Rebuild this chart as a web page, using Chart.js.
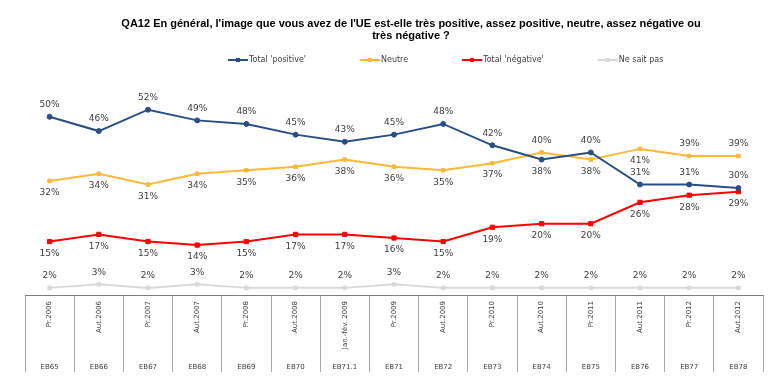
<!DOCTYPE html>
<html>
<head>
    <title>Image de l'UE</title>
    <script src="https://cdn.jsdelivr.net/npm/chart.js"></script>
    <style>
        body { margin: 0; background: #fff; }
    </style>
</head>
<body>
    <canvas id="myChart" width="776" height="388"></canvas>

    <script>
        const periods = ['Pr.2006', 'Aut.2006', 'Pr.2007', 'Aut.2007', 'Pr.2008', 'Aut.2008', 'Jan.-fév. 2009',
            'Pr.2009', 'Aut.2009', 'Pr.2010', 'Aut.2010', 'Pr.2011', 'Aut.2011', 'Pr.2012', 'Aut.2012'];
        const waves = ['EB65', 'EB66', 'EB67', 'EB68', 'EB69', 'EB70', 'EB71.1', 'EB71', 'EB72', 'EB73',
            'EB74', 'EB75', 'EB76', 'EB77', 'EB78'];
        const positive = [50, 46, 52, 49, 48, 45, 43, 45, 48, 42, 38, 40, 31, 31, 30];
        const neutre = [32, 34, 31, 34, 35, 36, 38, 36, 35, 37, 40, 38, 41, 39, 39];
        const negative = [15, 17, 15, 14, 15, 17, 17, 16, 15, 19, 20, 20, 26, 28, 29];
        const nsp = [2, 3, 2, 3, 2, 2, 2, 3, 2, 2, 2, 2, 2, 2, 2];
        const seriesNames = ["Total 'positive'", 'Neutre', "Total 'négative'", 'Ne sait pas'];
        const titleLines = ["QA12 En général, l'image que vous avez de l'UE est-elle très positive, assez positive, neutre, assez négative ou",
            'très négative ?'];

        // percentage labels next to each point
        const valueLabels = {
            id: 'valueLabels',
            afterDatasetsDraw(chart) {
                const ctx = chart.ctx;
                ctx.save();
                ctx.font = '9px "DejaVu Sans"';
                ctx.fillStyle = '#404040';
                ctx.textAlign = 'center';
                ctx.textBaseline = 'middle';
                chart.data.datasets.forEach((ds, d) => {
                    chart.getDatasetMeta(d).data.forEach((pt, i) => {
                        const below = ds.labelBelow.includes(i);
                        ctx.fillText(ds.data[i] + '%', pt.x, pt.y + (below ? 12 : -12));
                    });
                });
                ctx.restore();
            }
        };

        // title and legend, placed like the original
        const header = {
            id: 'header',
            afterDraw(chart) {
                const ctx = chart.ctx;
                ctx.save();
                ctx.fillStyle = '#000';
                ctx.textAlign = 'center';
                ctx.textBaseline = 'middle';
                ctx.font = 'bold 11px "Liberation Sans"';
                titleLines.forEach((t, i) => ctx.fillText(t, 411, 24 + i * 12));

                ctx.font = '8px "DejaVu Sans"';
                ctx.textAlign = 'left';
                let x = 228;
                chart.data.datasets.forEach(ds => {
                    ctx.strokeStyle = ds.borderColor;
                    ctx.fillStyle = ds.borderColor;
                    ctx.lineWidth = 2;
                    ctx.beginPath();
                    ctx.moveTo(x, 60);
                    ctx.lineTo(x + 20, 60);
                    ctx.stroke();
                    ctx.fillRect(x + 8, 58, 4, 4);
                    ctx.fillStyle = '#404040';
                    ctx.fillText(ds.label, x + 21, 60);
                    x += 21 + ctx.measureText(ds.label).width + 54;
                });
                ctx.restore();
            }
        };

        const ctx = document.getElementById('myChart').getContext('2d');
        const chart = new Chart(ctx, {
            type: 'line',
            data: {
                labels: periods,
                datasets: [{
                    label: seriesNames[0],
                    data: positive,
                    borderColor: '#2a4e83',
                    backgroundColor: '#2a4e83',
                    pointStyle: 'circle',
                    pointRadius: 2.5,
                    labelBelow: [10]
                }, {
                    label: seriesNames[1],
                    data: neutre,
                    borderColor: '#fdb83a',
                    backgroundColor: '#fdb83a',
                    pointStyle: 'rect',
                    pointRadius: 2.5,
                    labelBelow: [0, 1, 2, 3, 4, 5, 6, 7, 8, 9, 11, 12]
                }, {
                    label: seriesNames[2],
                    data: negative,
                    borderColor: '#ff0000',
                    backgroundColor: '#ff0000',
                    pointStyle: 'rect',
                    pointRadius: 3,
                    labelBelow: [0, 1, 2, 3, 4, 5, 6, 7, 8, 9, 10, 11, 12, 13, 14]
                }, {
                    label: seriesNames[3],
                    data: nsp,
                    borderColor: '#d9d9d9',
                    backgroundColor: '#d9d9d9',
                    pointStyle: 'rect',
                    pointRadius: 2.5,
                    labelBelow: []
                }]
            },
            options: {
                responsive: false,
                animation: false,
                elements: { line: { borderWidth: 2, tension: 0 } },
                layout: { padding: { top: 99, left: 25, right: 13, bottom: 0 } },
                plugins: {
                    legend: { display: false },
                    title: { display: false },
                    tooltip: { enabled: false }
                },
                scales: {
                    x: {
                        offset: true,
                        grid: { offset: true, drawOnChartArea: false, tickLength: 77, color: '#a6a6a6' },
                        border: { color: '#7f7f7f' },
                        ticks: {
                            autoSkip: false, minRotation: 90, maxRotation: 90, padding: -71,
                            color: '#404040', font: { family: 'DejaVu Sans', size: 7 }
                        },
                        afterFit: s => { s.height = 63; }
                    },
                    x2: {
                        type: 'category',
                        position: 'bottom',
                        weight: 1,
                        offset: true,
                        labels: waves,
                        grid: { display: false, drawTicks: false },
                        border: { display: false },
                        ticks: {
                            autoSkip: false, maxRotation: 0, padding: 5,
                            color: '#404040', font: { family: 'DejaVu Sans', size: 7 }
                        },
                        afterFit: s => { s.height = 30; }
                    },
                    y: { display: false, min: 0, max: 55 }
                }
            },
            plugins: [valueLabels, header]
        });
    </script>
</body>
</html>
